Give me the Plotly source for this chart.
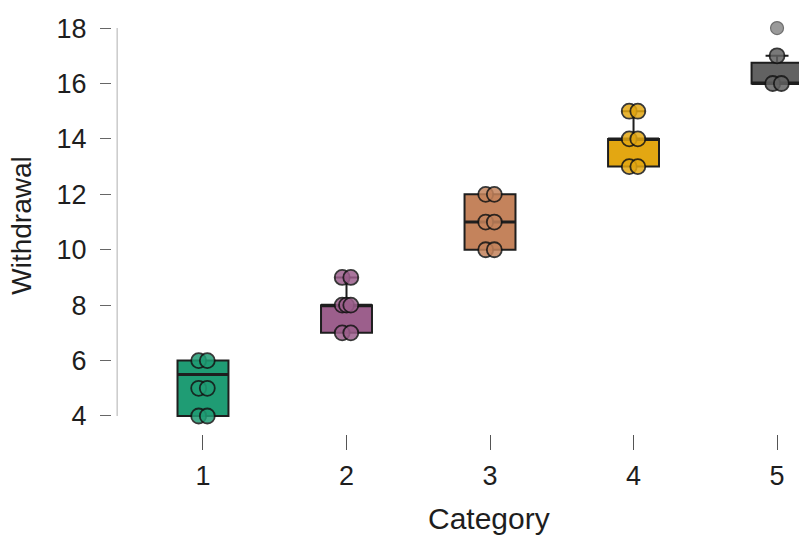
import plotly.graph_objects as go

# Categories and observed withdrawal values
categories = [1, 2, 3, 4, 5]
tick_labels = ["1", "2", "3", "4", "5"]
points_1 = [4, 4, 5, 5, 6, 6]
points_2 = [7, 7, 8, 8, 8, 9, 9]
points_3 = [10, 10, 11, 11, 12, 12]
points_4 = [13, 13, 14, 14, 15, 15]
points_5 = [16, 16, 17]
outliers_5 = [18]

# Box summary statistics per category
q1 = [4, 7, 10, 13, 16]
median = [5.5, 8, 11, 14, 16]
q3 = [6, 8, 12, 14, 16.75]
lower_fence = [4, 7, 10, 13, 16]
upper_fence = [6, 9, 12, 15, 17]

colors = ["#1f9c74", "#9c5f8c", "#c4835c", "#e3a712", "#626262"]
FONT = "Liberation Sans, Arial, sans-serif"
BOX_WIDTH = 0.355

fig = go.Figure()

for i, cat in enumerate(categories):
    fig.add_trace(go.Box(
        x=[cat], q1=[q1[i]], median=[median[i]], q3=[q3[i]],
        lowerfence=[lower_fence[i]], upperfence=[upper_fence[i]],
        boxpoints=False, width=BOX_WIDTH, whiskerwidth=0.45,
        fillcolor=colors[i], line=dict(color="#1e1e1e", width=2),
        showlegend=False, hoverinfo="skip",
    ))
    # heavier median stroke across the box
    fig.add_trace(go.Scatter(
        x=[cat - BOX_WIDTH / 2, cat + BOX_WIDTH / 2], y=[median[i], median[i]],
        mode="lines", line=dict(color="#1e1e1e", width=3),
        showlegend=False, hoverinfo="skip",
    ))

all_points = [points_1, points_2, points_3, points_4, points_5]
for i, (cat, vals) in enumerate(zip(categories, all_points)):
    # spread repeated values side by side so both markers show
    xs = []
    seen = {}
    for v in vals:
        n = vals.count(v)
        k = seen.get(v, 0)
        seen[v] = k + 1
        if n == 1:
            xs.append(cat)
        else:
            span = 0.03
            xs.append(cat - span + 2 * span * k / (n - 1))
    fig.add_trace(go.Scatter(
        x=xs, y=vals, mode="markers",
        marker=dict(size=15, color=colors[i], opacity=0.85,
                    line=dict(color="#151515", width=1.8)),
        showlegend=False, hoverinfo="skip",
    ))

fig.add_trace(go.Scatter(
    x=[categories[4]] * len(outliers_5), y=outliers_5, mode="markers",
    marker=dict(size=13, color="#9a9a9a", line=dict(color="#6f6f6f", width=1.2)),
    showlegend=False, hoverinfo="skip",
))

# y axis line drawn slightly apart from the ticks, spanning the labelled range
fig.add_shape(type="line", xref="paper", yref="y", x0=0.0075, x1=0.0075,
              y0=4, y1=18, line=dict(color="#bdbdbd", width=1.2))

# x axis title, centred on the full (wider) panel
fig.add_annotation(text="Category", xref="paper", yref="paper",
                   x=0.549, y=-0.203, xanchor="center", yanchor="middle",
                   showarrow=False, font=dict(size=30, family=FONT, color="#1e1e1e"))

fig.update_layout(
    width=799, height=538,
    margin=dict(l=112, r=0, t=17, b=104),
    paper_bgcolor="white", plot_bgcolor="white",
    font=dict(family=FONT, color="#1e1e1e"),
    xaxis=dict(
        range=[0.366, 5.153], tickmode="array", tickvals=categories,
        ticktext=tick_labels, showgrid=False, zeroline=False, showline=False,
        ticks="outside", ticklen=15, tickcolor="#555555", tickwidth=1,
        ticklabelstandoff=3, tickfont=dict(size=27, family=FONT),
    ),
    yaxis=dict(
        range=[3.35, 18.4], tickvals=[4, 6, 8, 10, 12, 14, 16, 18],
        showgrid=False, zeroline=False, showline=False,
        ticks="outside", ticklen=11, tickcolor="#666666", tickwidth=1,
        ticklabelstandoff=8, tickfont=dict(size=27, family=FONT),
        title=dict(text="Withdrawal", font=dict(size=28, family=FONT), standoff=16),
    ),
)

fig.write_html("out.html")
